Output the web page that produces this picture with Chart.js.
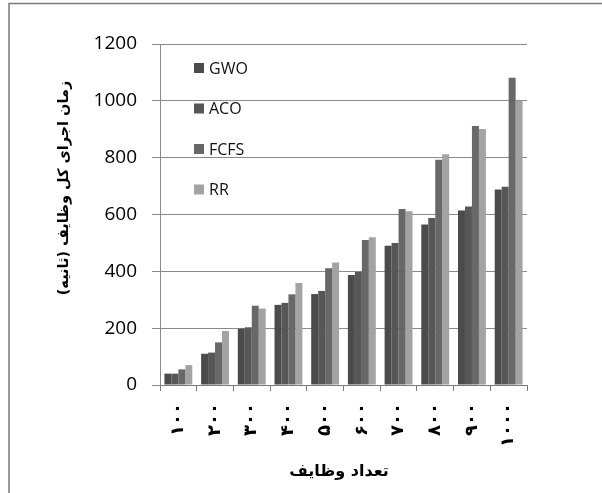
<!DOCTYPE html>
<html>
<head>
<meta charset="utf-8">
<script src="https://cdn.jsdelivr.net/npm/chart.js@4/dist/chart.umd.min.js"></script>
<style>
  html, body { margin: 0; padding: 0; background: #fff; }
  #wrap { width: 602px; height: 493px; position: relative; }
</style>
</head>
<body>
<div id="wrap"><canvas id="c" width="602" height="493"></canvas></div>
<script>
// Number of tasks (category labels, Persian digits)
const categories = ['۱۰۰', '۲۰۰', '۳۰۰', '۴۰۰', '۵۰۰', '۶۰۰', '۷۰۰', '۸۰۰', '۹۰۰', '۱۰۰۰'];

// Total execution time (seconds) per algorithm
const gwo  = [40, 110, 198, 282, 320, 387, 490, 565, 614, 688];
const aco  = [40, 114, 203, 289, 331, 398, 500, 588, 628, 698];
const fcfs = [55, 150, 279, 319, 411, 510, 619, 793, 911, 1081];
const rr   = [70, 190, 269, 359, 431, 520, 611, 812, 901, 1000];

const seriesNames = ['GWO', 'ACO', 'FCFS', 'RR'];
const seriesColors = ['#4b4b4b', '#575757', '#686868', '#a3a3a3'];

const yTicks = [0, 200, 400, 600, 800, 1000, 1200];

const yTitle = 'زمان اجرای کل وظایف (ثانیه)';
const xTitle = 'تعداد وظایف';

const seriesData = [gwo, aco, fcfs, rr];

// Outer frame, legend inside the plot, and axis titles
const decorations = {
  id: 'decorations',
  beforeDraw(chart) {
    const ctx = chart.ctx;
    ctx.save();
    ctx.fillStyle = '#ffffff';
    ctx.fillRect(0, 0, chart.width, chart.height);
    ctx.strokeStyle = '#7a7a7a';
    ctx.lineWidth = 1.5;
    ctx.beginPath();
    ctx.moveTo(9, chart.height + 2);
    ctx.lineTo(9, 3.5);
    ctx.lineTo(chart.width + 2, 3.5);
    ctx.stroke();
    ctx.restore();
  },
  afterDraw(chart) {
    const ctx = chart.ctx;
    const area = chart.chartArea;
    ctx.save();
    // legend
    ctx.font = '16px "Open Sans"';
    ctx.textBaseline = 'middle';
    ctx.textAlign = 'left';
    chart.data.datasets.forEach((ds, i) => {
      const cy = 68 + i * 40.5;
      const x0 = area.left + 34;
      ctx.fillStyle = ds.backgroundColor;
      ctx.fillRect(x0, cy - 5, 10, 10);
      ctx.fillStyle = '#111';
      ctx.fillText(ds.label, x0 + 15, cy + 1);
    });
    // y-axis title
    ctx.font = 'bold 14.5px "DejaVu Sans"';
    ctx.fillStyle = '#000';
    ctx.textAlign = 'center';
    ctx.textBaseline = 'middle';
    ctx.translate(64, 188);
    ctx.rotate(-Math.PI / 2);
    ctx.fillText(yTitle, 0, 0);
    ctx.restore();
    // x-axis title
    ctx.save();
    ctx.font = 'bold 16px "DejaVu Sans"';
    ctx.fillStyle = '#000';
    ctx.textAlign = 'center';
    ctx.textBaseline = 'middle';
    ctx.fillText(xTitle, 339, 472);
    ctx.restore();
  }
};

new Chart(document.getElementById('c'), {
  type: 'bar',
  data: {
    labels: categories,
    datasets: seriesNames.map((name, i) => ({
      label: name,
      data: seriesData[i],
      backgroundColor: seriesColors[i],
      borderWidth: 0,
      categoryPercentage: 0.76,
      barPercentage: 1.0
    }))
  },
  options: {
    responsive: false,
    animation: false,
    devicePixelRatio: 1,
    layout: { padding: { left: 0, top: 44, right: 75, bottom: 0 } },
    plugins: {
      legend: { display: false },
      tooltip: { enabled: false }
    },
    scales: {
      x: {
        afterFit(scale) { scale.height = 108; },
        grid: {
          offset: true,
          drawOnChartArea: false,
          drawTicks: true,
          tickLength: 6,
          color: '#7a7a7a'
        },
        border: { display: true, color: '#7a7a7a', width: 1 },
        ticks: {
          minRotation: 90,
          maxRotation: 90,
          padding: 12,
          color: '#000',
          font: { family: '"DejaVu Sans"', size: 18, weight: 'bold' }
        }
      },
      y: {
        min: 0,
        max: 1200,
        afterFit(scale) { scale.width = 160; },
        afterBuildTicks(scale) { scale.ticks = yTicks.map(v => ({ value: v })); },
        grid: {
          color: '#8a8a8a',
          lineWidth: 1,
          drawTicks: true,
          tickLength: 8
        },
        border: { display: true, color: '#8a8a8a', width: 1 },
        ticks: {
          padding: 15,
          color: '#000',
          font: { family: '"Open Sans"', size: 19 },
          callback: (v) => String(v)
        }
      }
    }
  },
  plugins: [decorations]
});
</script>
</body>
</html>
